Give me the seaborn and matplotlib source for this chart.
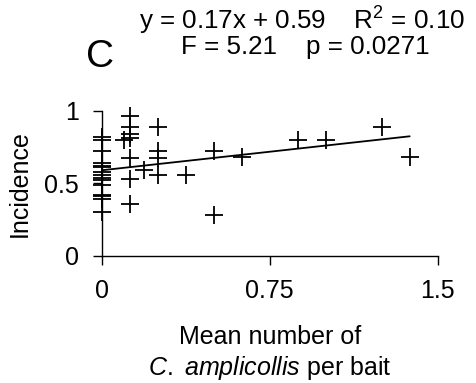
import matplotlib
matplotlib.use("Agg")
import matplotlib.pyplot as plt
import seaborn as sns
import numpy as np
import pandas as pd

# Data
x_vals = [0, 0, 0, 0, 0, 0, 0, 0, 0, 0, 0, 0, 0, 0, 0,
          0.1,
          0.125, 0.125, 0.125, 0.125, 0.125, 0.125, 0.125,
          0.19,
          0.25, 0.25, 0.25, 0.25,
          0.375,
          0.5, 0.5,
          0.625, 0.875, 1.0, 1.25, 1.375]
y_vals = [0.82, 0.80, 0.72, 0.64, 0.62, 0.61, 0.58, 0.56, 0.54, 0.52, 0.49, 0.42, 0.41, 0.39, 0.30,
          0.80,
          0.965, 0.885, 0.84, 0.81, 0.675, 0.53, 0.36,
          0.59,
          0.885, 0.72, 0.675, 0.56,
          0.56,
          0.72, 0.28,
          0.68, 0.80, 0.80, 0.89, 0.68]
slope = 0.17
intercept = 0.59
x_ticks = [0, 0.75, 1.5]
x_tick_labels = ["0", "0.75", "1.5"]
y_ticks = [0, 0.5, 1]
y_tick_labels = ["0", "0.5", "1"]

sns.set_theme(style="white")
plt.rcParams['font.family'] = ['Liberation Sans', 'DejaVu Sans']
plt.rcParams['text.color'] = 'black'
plt.rcParams['axes.labelcolor'] = 'black'
plt.rcParams['mathtext.fontset'] = 'custom'
plt.rcParams['mathtext.rm'] = 'Liberation Sans'
plt.rcParams['mathtext.it'] = 'Liberation Sans:italic'
plt.rcParams['mathtext.bf'] = 'Liberation Sans:bold'

df = pd.DataFrame({"x": x_vals, "y": y_vals})
fit_x = np.array([min(x_vals), max(x_vals)])
fit_df = pd.DataFrame({"x": fit_x, "y": slope * fit_x + intercept})

fig = plt.figure(figsize=(4.76, 3.83), dpi=100)
ax = fig.add_axes([0.2137, 0.3316, 0.9195 - 0.2137, 0.711 - 0.3316])

sns.lineplot(data=fit_df, x="x", y="y", ax=ax, color="black", linewidth=1.3)
sns.scatterplot(data=df, x="x", y="y", ax=ax, marker="+", s=170, color="black",
                linewidth=1.3, clip_on=False, zorder=3)

ax.set_xlim(0, 1.5)
ax.set_ylim(0, 1)
ax.set_xticks(x_ticks)
ax.set_xticklabels(x_tick_labels)
ax.set_yticks(y_ticks)
ax.set_yticklabels(y_tick_labels)
ax.tick_params(axis="both", direction="out", length=6.5, width=1.0, color="black",
               labelsize=18, labelcolor="black", bottom=True, left=True, pad=10)
for s in ["top", "right"]:
    ax.spines[s].set_visible(False)
for s in ["left", "bottom"]:
    ax.spines[s].set_color("black")
    ax.spines[s].set_linewidth(1.0)

ax.set_xlabel("Mean number of\n$\\mathit{C.}$ $\\mathit{amplicollis}$ per bait", fontsize=18,
              color="black", labelpad=16, linespacing=1.25)
ax.set_ylabel("Incidence", fontsize=18, color="black", labelpad=9)

fig.text(0.634, 0.946, "y = 0.17x + 0.59    R$^2$ = 0.10", ha="center", va="center",
         fontsize=18.7, color="black")
fig.text(0.641, 0.877, "F = 5.21    p = 0.0271", ha="center", va="center",
         fontsize=18.7, color="black")
fig.text(0.21, 0.851, "C", ha="center", va="center", fontsize=28, color="black")

fig.savefig("out.png", dpi=100)
